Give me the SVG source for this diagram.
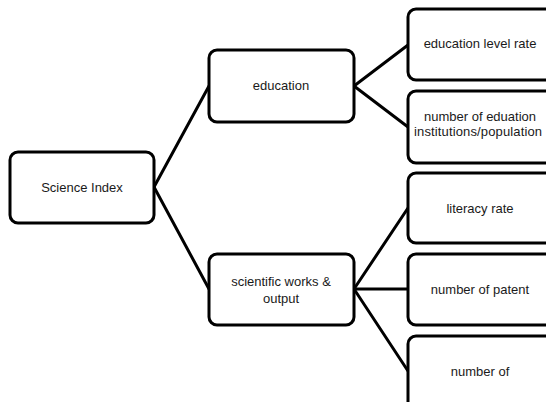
<svg xmlns="http://www.w3.org/2000/svg" width="546" height="402" viewBox="0 0 546 402">
<style>
.box{fill:#fff;stroke:#000;stroke-width:3}
.lbl{font-family:"Liberation Sans",Arial,sans-serif;font-size:13px;fill:#1a1a1a;text-anchor:middle}
.conn line{stroke:#000;stroke-width:3;stroke-linecap:round}
</style>
<rect width="546" height="402" fill="#fff"/>
<g class="conn" id="connectors">
<line x1="154" y1="187" x2="209" y2="86"/>
<line x1="154" y1="187" x2="209" y2="289"/>
<line x1="354" y1="86" x2="408" y2="45"/>
<line x1="354" y1="86" x2="408" y2="127"/>
<line x1="354" y1="289" x2="408" y2="208"/>
<line x1="354" y1="289" x2="408" y2="289"/>
<line x1="354" y1="289" x2="408" y2="371"/>
</g>
<g id="science-index">
<rect class="box" x="10" y="152" width="144" height="71" rx="8"/>
<text class="lbl" x="82" y="192">Science Index</text>
</g>
<g id="education">
<rect class="box" x="209" y="50" width="145" height="72" rx="8"/>
<text class="lbl" x="281" y="90">education</text>
</g>
<g id="scientific-works">
<rect class="box" x="209" y="254" width="145" height="71" rx="8"/>
<text class="lbl" x="281" y="286">scientific works &amp;</text>
<text class="lbl" x="281" y="303">output</text>
</g>
<g id="education-level-rate">
<rect class="box" x="408" y="9" width="145" height="71" rx="8"/>
<text class="lbl" x="480" y="48">education level rate</text>
</g>
<g id="education-institutions">
<rect class="box" x="408" y="91" width="145" height="72" rx="8"/>
<text class="lbl" x="480" y="121">number of eduation</text>
<text class="lbl" x="478" y="136" textLength="128" lengthAdjust="spacing">institutions/population</text>
</g>
<g id="literacy-rate">
<rect class="box" x="408" y="173" width="145" height="70" rx="8"/>
<text class="lbl" x="480" y="213">literacy rate</text>
</g>
<g id="number-of-patent">
<rect class="box" x="408" y="254" width="145" height="71" rx="8"/>
<text class="lbl" x="480" y="294">number of patent</text>
</g>
<g id="number-of">
<rect class="box" x="408" y="336" width="145" height="80" rx="8"/>
<text class="lbl" x="480" y="376">number of</text>
</g>
</svg>
